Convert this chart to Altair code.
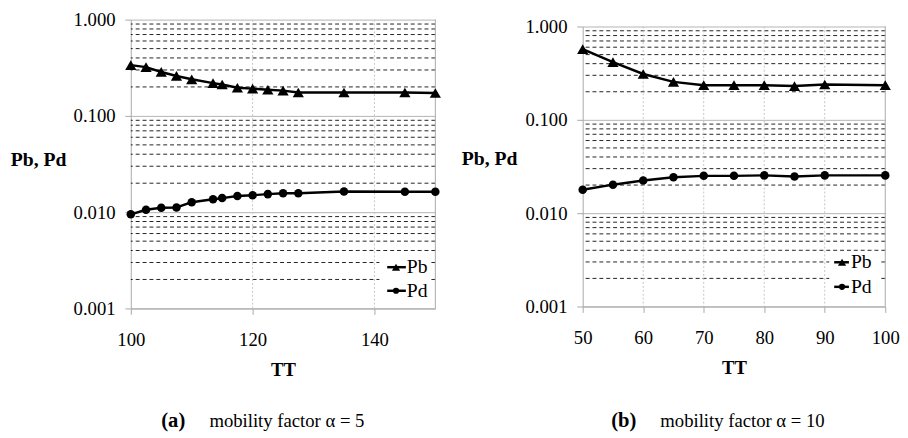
import altair as alt
import pandas as pd

# ---------------- data ----------------
SERIES = ["Pb", "Pd"]
SHAPES = ["triangle-up", "circle"]

TT_A = [100, 102.5, 105, 107.5, 110, 113.5, 115, 117.5, 120, 122.5, 125, 127.5, 135, 145, 150]
PB_A = [0.337, 0.321, 0.286, 0.260, 0.240, 0.219, 0.212, 0.196, 0.192, 0.187, 0.183, 0.175, 0.175, 0.175, 0.173]
PD_A = [0.0095, 0.0106, 0.0111, 0.0112, 0.0127, 0.0136, 0.0140, 0.0147, 0.0150, 0.0154, 0.0157, 0.0157, 0.0164, 0.0163, 0.0163]

TT_B = [50, 55, 60, 65, 70, 75, 80, 85, 90, 100]
PB_B = [0.573, 0.415, 0.310, 0.255, 0.235, 0.235, 0.235, 0.230, 0.239, 0.235]
PD_B = [0.0178, 0.0202, 0.0224, 0.0243, 0.0251, 0.0251, 0.0254, 0.0247, 0.0254, 0.0254]

Y_TICKS = [0.001, 0.01, 0.1, 1.0]
MINOR_GRID = [0.002, 0.003, 0.004, 0.005, 0.006, 0.007, 0.008, 0.009,
              0.02, 0.03, 0.04, 0.05, 0.06, 0.07, 0.08, 0.09,
              0.2, 0.3, 0.4, 0.5, 0.6, 0.7, 0.8, 0.9]
X_TICKS_A = [100, 120, 140]
X_TICKS_B = [50, 60, 70, 80, 90, 100]
X_GRID_A = [120, 140]
X_GRID_B = [60, 70, 80, 90]

CAPTION_TAGS = ["(a)", "(b)"]
CAPTION_TEXTS = ["mobility factor \u03b1 = 5", "mobility factor \u03b1 = 10"]

FONT = "Liberation Serif"
BORDER = "#a8a8a8"


def panel(tt, pb, pdv, xdom, xticks, xgrid, w, h, top, title_x, title_y, leg,
          cap_tag, cap_text, cap):
    df = pd.DataFrame({
        "TT": list(tt) + list(tt),
        "value": list(pb) + list(pdv),
        "series": [SERIES[0]] * len(tt) + [SERIES[1]] * len(tt),
    })
    xs = alt.Scale(domain=xdom, nice=False, zero=False)
    ys = alt.Scale(type="log", domain=[0.001, 1.0], nice=False, range=[h, top])

    y_axis = alt.Axis(
        values=Y_TICKS, format=".3f", title="Pb, Pd", titleAngle=0, titleAlign="right",
        titleBaseline="middle", titleX=title_x, titleY=title_y, titleFont=FONT,
        titleFontSize=20, titleFontWeight="bold", titleColor="black",
        labelFont=FONT, labelFontSize=19, labelColor="black", labelPadding=10,
        labelFlush=False,
        grid=True, gridColor="#b4b4b4", gridDash=[],
        domainColor=BORDER, tickColor=BORDER, tickSize=6)
    x_axis = alt.Axis(
        values=xticks, title="TT", titleFont=FONT, titleFontSize=19, titleFontWeight="bold",
        titleColor="black", titlePadding=11,
        labelFont=FONT, labelFontSize=19, labelColor="black", labelPadding=17,
        labelFlush=False,
        grid=False, domainColor=BORDER, tickColor=BORDER, tickSize=6)

    # minor (dashed) horizontal grid
    grid = alt.Chart(pd.DataFrame({"g": MINOR_GRID})).mark_rule(
        color="#222", strokeWidth=1, strokeDash=[4, 3]
    ).encode(y=alt.Y("g:Q", scale=ys, axis=y_axis))

    # dotted vertical grid at the x ticks
    vgrid = alt.Chart(pd.DataFrame({"x": xgrid, "y0": [1.0] * len(xgrid),
                                    "y1": [0.001] * len(xgrid)})).mark_rule(
        color="#c4c4c4", strokeWidth=1, strokeDash=[2, 2]
    ).encode(x=alt.X("x:Q", scale=xs, axis=x_axis),
             y=alt.Y("y0:Q", scale=ys, axis=y_axis), y2="y1:Q")

    # right border of the plot frame
    rborder = alt.Chart(pd.DataFrame({"x": [xdom[1]], "y0": [1.0], "y1": [0.001]})).mark_rule(
        color=BORDER, strokeWidth=1
    ).encode(x=alt.X("x:Q", scale=xs, axis=x_axis),
             y=alt.Y("y0:Q", scale=ys, axis=y_axis), y2="y1:Q")

    lines = alt.Chart(df).mark_line(color="black", strokeWidth=2.5).encode(
        x=alt.X("TT:Q", scale=xs, axis=x_axis),
        y=alt.Y("value:Q", scale=ys, axis=y_axis), detail="series:N")
    pts = alt.Chart(df).mark_point(filled=True, color="black", opacity=1).encode(
        x=alt.X("TT:Q", scale=xs, axis=x_axis), y=alt.Y("value:Q", scale=ys, axis=y_axis),
        shape=alt.Shape("series:N", scale=alt.Scale(domain=SERIES, range=SHAPES), legend=None),
        size=alt.Size("series:N", scale=alt.Scale(domain=SERIES, range=[130, 75]), legend=None))

    layers = [grid, vgrid, rborder, lines, pts]

    # legend box (white) and entries
    bx0, bx1, by0, by1, rx0, rx1, mx, tx, ys_leg = leg
    one = pd.DataFrame({"k": [0]})
    layers.append(alt.Chart(one).mark_rect(color="white").encode(
        x=alt.value(bx0), x2=alt.value(bx1), y=alt.value(by0), y2=alt.value(by1)))
    for name, shp, sz, ly in zip(SERIES, SHAPES, [70, 40], ys_leg):
        d = pd.DataFrame({"s": [name]})
        layers.append(alt.Chart(d).mark_rule(color="black", strokeWidth=2.5).encode(
            x=alt.value(rx0), x2=alt.value(rx1), y=alt.value(ly)))
        layers.append(alt.Chart(d).mark_point(filled=True, color="black", opacity=1,
                                              shape=shp, size=sz).encode(
            x=alt.value(mx), y=alt.value(ly)))
        layers.append(alt.Chart(d).mark_text(align="left", baseline="middle", font=FONT,
                                             fontSize=20, color="black").encode(
            x=alt.value(tx), y=alt.value(ly), text="s:N"))

    # caption
    cx_tag, cx_text, cy = cap
    layers.append(alt.Chart(pd.DataFrame({"c": [cap_tag]})).mark_text(
        align="left", baseline="alphabetic", font=FONT, fontSize=21, fontWeight="bold",
        color="black").encode(x=alt.value(cx_tag), y=alt.value(cy), text="c:N"))
    layers.append(alt.Chart(pd.DataFrame({"c": [cap_text]})).mark_text(
        align="left", baseline="alphabetic", font=FONT, fontSize=19,
        color="black").encode(x=alt.value(cx_text), y=alt.value(cy), text="c:N"))

    return alt.layer(*layers).properties(
        width=w, height=h, view=alt.ViewBackground(stroke="transparent"))


left = panel(TT_A, PB_A, PD_A, [100, 150], X_TICKS_A, X_GRID_A, 310, 294, 0, -66, 143,
             (253, 304, 239, 288, 261, 280, 270, 281, [252, 276]),
             CAPTION_TAGS[0], CAPTION_TEXTS[0], (31, 80, 415))
right = panel(TT_B, PB_B, PD_B, [50, 100], X_TICKS_B, X_GRID_B, 308, 292, 7, -67, 141,
              (251, 303, 238, 284, 256, 271, 264, 273, [247, 272]),
              CAPTION_TAGS[1], CAPTION_TEXTS[1], (29, 79, 415))

chart = alt.hconcat(left, right, spacing=18).properties(
    padding={"left": 1, "top": -2, "right": 0, "bottom": 0}
).configure(background="white")

chart.save("out.html", embed_options={"renderer": "svg", "actions": False})
